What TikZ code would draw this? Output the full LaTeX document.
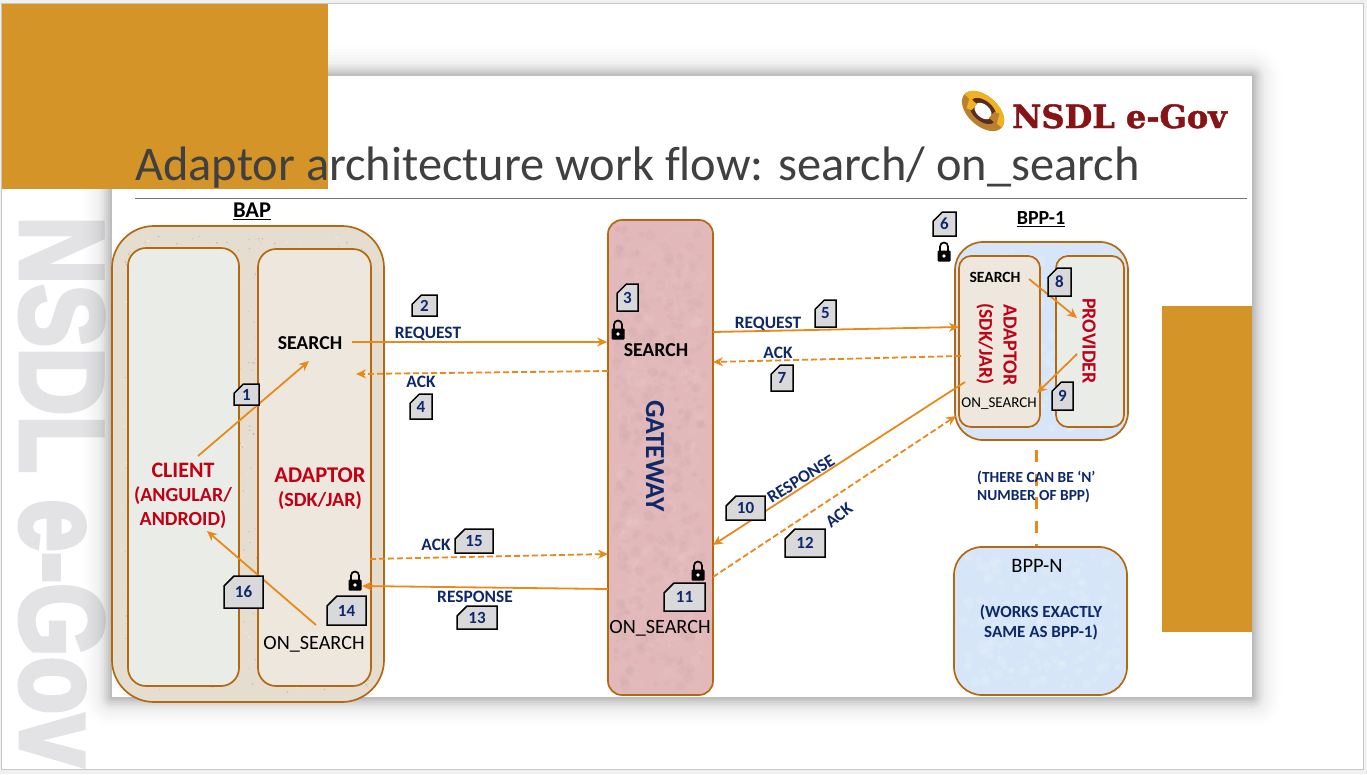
\documentclass[tikz,border=0pt]{standalone}
\usepackage{fontspec}
\setmainfont{Carlito}
\newfontfamily\heavyfont[BoldFeatures={FakeBold=4}]{Liberation Sans}
\newfontfamily\logofont[BoldFeatures={FakeBold=1.5}]{DejaVu Serif}
\usetikzlibrary{arrows.meta,shapes.misc}
\definecolor{gold}{RGB}{212,148,40}
\definecolor{edge}{RGB}{180,104,16}
\definecolor{flow}{RGB}{232,137,28}
\definecolor{navy}{RGB}{14,40,105}
\definecolor{crimson}{RGB}{192,0,20}
\definecolor{papergray}{RGB}{240,240,240}
\definecolor{wmgray}{RGB}{227,227,230}
\definecolor{sand}{RGB}{229,221,208}
\definecolor{linen}{RGB}{238,231,221}
\definecolor{mist}{RGB}{233,236,231}
\definecolor{rosy}{RGB}{226,184,186}
\definecolor{sky}{RGB}{214,229,247}
\definecolor{tagfill}{RGB}{217,217,220}
\definecolor{logored}{RGB}{134,20,22}
\definecolor{logobrown}{RGB}{92,44,32}
\definecolor{logoamber}{RGB}{186,128,48}
\definecolor{logoyellow}{RGB}{240,178,32}

% spots of colour for the rough paper fills
\newcommand{\speckle}[7]{%
  \foreach \i in {1,...,#6}{
    \pgfmathsetmacro{\sx}{#2+rnd*(#4-#2)}
    \pgfmathsetmacro{\sy}{#3+rnd*(#5-#3)}
    \pgfmathsetmacro{\sr}{#7*(.4+rnd)}
    \fill[#1] (\sx,\sy) circle (\sr);
  }}

\begin{document}
\begin{tikzpicture}[
  x=1pt, y=-1pt,
  box/.style={draw=edge, line width=1.7pt, inner sep=0pt},
  tag/.style={chamfered rectangle, chamfered rectangle corners=north west,
              chamfered rectangle xsep=5pt, chamfered rectangle ysep=5pt,
              chamfered rectangle angle=45,
              draw=black, line width=1.5pt, fill=tagfill, inner sep=0pt,
              text=navy, font=\fontsize{17}{17}\selectfont\bfseries},
  lbl/.style={font=\fontsize{17.4}{19}\selectfont\bfseries, text=navy, inner sep=1pt},
  black label/.style={font=\fontsize{19.7}{21}\selectfont\bfseries, inner sep=1pt},
  plain label/.style={font=\fontsize{20.2}{21}\selectfont, inner sep=1pt},
  red label/.style={font=\fontsize{22}{24}\selectfont\bfseries, text=crimson, inner sep=1pt},
  arr/.style={-{Stealth[length=10pt,width=9pt]}, flow, line width=1.8pt},
  dasharr/.style={arr, dash pattern=on 6pt off 3pt},
  lockicon/.pic={
    \draw[black, line width=1.7pt] (-4,0) -- (-4,-4.5) arc (180:360:4) -- (4,0);
    \fill[black, rounded corners=1pt] (-6.5,-0.5) rectangle (6.5,10.5);
    \fill[white] (0,5) circle (1.8);
  }]

\useasboundingbox (0,0) rectangle (1367,774);
\pgfmathsetseed{42}

% ---------- page and watermark ----------
\fill[papergray] (0,0) rectangle (1367,774);
\draw[fill=white, draw=black!22, line width=1pt] (1.5,3.5) rectangle (1363,769);
\node[rotate=-90, xscale=0.8, transform shape, anchor=base west, inner sep=0pt,
      font=\fontsize{118}{118}\selectfont\heavyfont\bfseries, text=wmgray] (mark) at (21,216) {NSDL e-Gov};

% ---------- slide ----------
\foreach \d/\o in {30/.005,27/.006,24/.008,21/.01,18/.013,15/.017,12/.022,10/.026,8/.032,6/.04,4/.045,2/.05}
  \fill[black, opacity=\o, rounded corners=\d pt] (112-\d,76-\d) rectangle (1252+\d,697+\d);
\fill[white] (112,76) rectangle (1252,697);
\fill[gold] (2,4) rectangle (328,189);
\fill[gold] (1162,306) rectangle (1252,632);
\draw[black!55, line width=.8pt] (135,198) -- (1247,198);
\node[anchor=base west, inner sep=0pt, text=black!75, font=\fontsize{48.4}{48}\selectfont\addfontfeatures{Ligatures=NoCommon}] (title) at (135,180)
  {Adaptor architecture work flow: search/ on\_search};

% ---------- logo ----------
\begin{scope}[shift={(983,111)}, rotate=-42]
\fill[logoamber] (0,0) ellipse (25 and 15);
\fill[logoyellow] (-25,0) arc (180:360:25 and 15) -- cycle;
\fill[logobrown] (0,0) ellipse (16 and 10);
\fill[white] (0,0) ellipse (10 and 6.5);
\fill[logoyellow] (-19,-1) -- (-9,-1) -- (-9,7) -- (-14,9) -- cycle;
\fill[logoamber] (19,1) -- (9,1) -- (9,-7) -- (14,-9) -- cycle;
\end{scope}
\node[anchor=base west, inner sep=0pt, text=logored, font=\fontsize{32}{33}\selectfont\logofont\bfseries] (logo) at (1012,128) {NSDL e-Gov};

% ---------- BAP ----------
\node[box, fill=sand, minimum width=272pt, minimum height=476pt, rounded corners=42pt] (bap) at (248,464) {};
\speckle{black!45!sand, opacity=.35}{124}{236}{372}{692}{700}{.7}
\speckle{white, opacity=.35}{124}{236}{372}{692}{300}{1}
\node[box, fill=mist, minimum width=111pt, minimum height=438pt, rounded corners=18pt] (client) at (183.5,467) {};
\node[box, fill=linen, minimum width=113pt, minimum height=437pt, rounded corners=18pt] (adaptor) at (314.5,467.5) {};
\node[black label, font=\fontsize{22.5}{24}\selectfont\bfseries] (baptxt) at (252,211) {\underline{BAP}};
\node[red label] at (183,470) (clienttxt) {CLIENT};
\node[red label, font=\fontsize{20}{23.5}\selectfont\bfseries, align=center] at (183,507.5) (clientsub) {(ANGULAR/\\ANDROID)};
\node[red label, font=\fontsize{22.5}{24}\selectfont\bfseries] at (320,475) (adaptortxt) {ADAPTOR};
\node[red label, font=\fontsize{20.2}{22}\selectfont\bfseries] at (320,501) (adaptorsub) {(SDK/JAR)};
\node[black label] (searchA) at (310,343) {SEARCH};
\node[plain label] (onsearchA) at (314,644) {ON\_SEARCH};

% ---------- gateway ----------
\node[box, fill=rosy, minimum width=105pt, minimum height=475pt, rounded corners=14pt] (gateway) at (660.5,457.5) {};
\speckle{white, opacity=.04}{616}{228}{705}{687}{400}{5}
\speckle{black!40!rosy, opacity=.04}{616}{228}{705}{687}{400}{4}
\node[rotate=-90, font=\fontsize{27.5}{28}\selectfont\bfseries, text=navy] (gatewaytxt) at (655,456) {GATEWAY};
\node[black label] (searchB) at (656,350) {SEARCH};
\node[plain label] (onsearchB) at (660,628) {ON\_SEARCH};

% ---------- BPP-1 ----------
\node[box, fill=sky, minimum width=173pt, minimum height=198pt, rounded corners=28pt] (bppone) at (1041.5,341) {};
\speckle{white, opacity=.12}{964}{251}{1119}{431}{200}{4}
\node[box, fill=linen, minimum width=81pt, minimum height=171pt, rounded corners=12pt] (bppadaptor) at (999.5,341.5) {};
\node[box, fill=mist, minimum width=68pt, minimum height=171pt, rounded corners=12pt] (provider) at (1090,341.5) {};
\node[black label, font=\fontsize{20}{21}\selectfont\bfseries] (bpptxt) at (1041,219) {\underline{BPP-1}};
\node[black label, font=\fontsize{15.6}{16}\selectfont\bfseries] (searchC) at (995,277) {SEARCH};
\node[plain label, font=\fontsize{15}{16}\selectfont] (onsearchC) at (999,404) {ON\_SEARCH};
\node[red label, font=\fontsize{20}{22}\selectfont\bfseries, rotate=-90] (bppadaptortxt) at (1010,345) {ADAPTOR};
\node[red label, font=\fontsize{19.5}{22}\selectfont\bfseries, rotate=-90] (bppadaptorsub) at (985,344) {(SDK/JAR)};
\node[red label, font=\fontsize{20}{22}\selectfont\bfseries, rotate=-90] (providertxt) at (1089,341) {PROVIDER};

% ---------- BPP-N ----------
\node[box, fill=sky, minimum width=173pt, minimum height=148pt, rounded corners=28pt] (bppn) at (1040.5,621) {};
\speckle{white, opacity=.12}{963}{556}{1118}{686}{170}{4}
\node[black label, font=\fontsize{20.5}{21}\selectfont] (bppntxt) at (1037,566) {BPP-N};
\node[lbl, font=\fontsize{17}{20}\selectfont\bfseries, align=center] (works) at (1041,622) {(WORKS EXACTLY\\SAME AS BPP-1)};

% ---------- flows ----------
\coordinate (clientout) at (198,456);
\coordinate (searchin) at (309,361);
\coordinate (ackAin) at (356,374);
\coordinate (ackAout) at (608,371);
\coordinate (reqBout) at (713,332);
\coordinate (reqBin) at (959,327);
\coordinate (ackBout) at (961,356);
\coordinate (ackBin) at (713,362);
\coordinate (searchCout) at (1029,279);
\coordinate (provin) at (1077,318);
\coordinate (provout) at (1077,354);
\coordinate (onCin) at (1037,393);
\coordinate (respBout) at (965,382);
\coordinate (respBin) at (713,545);
\coordinate (ackCout) at (713,577);
\coordinate (ackCin) at (956,416);
\coordinate (ackDout) at (370,559);
\coordinate (ackDin) at (608,554);
\coordinate (respAout) at (608,589);
\coordinate (respAin) at (362,586);
\coordinate (onAout) at (316,625);
\coordinate (clientin) at (207,531);
\coordinate (linkfrom) at (1036,450);
\coordinate (searchAout) at (352,342);

\draw[arr] (clientout) -- (searchin);
\draw[arr] (searchAout) -- (gateway.west |- searchAout);
\draw[dasharr] (ackAout) -- (ackAin);
\draw[arr] (reqBout) -- (reqBin);
\draw[dasharr] (ackBout) -- (ackBin);
\draw[arr] (searchCout) -- (provin);
\draw[arr] (provout) -- (onCin);
\draw[arr] (respBout) -- (respBin);
\draw[dasharr] (ackCout) -- (ackCin);
\draw[dasharr] (ackDout) -- (ackDin);
\draw[arr] (respAout) -- (respAin);
\draw[arr] (onAout) -- (clientin);
\draw[flow, line width=3pt, dash pattern=on 12pt off 11.5pt] (linkfrom) -- (linkfrom |- bppn.north);

% ---------- flow labels ----------
\node[lbl] (reqA) at (428,334) {REQUEST};
\node[lbl] (ackA) at (421,382) {ACK};
\node[lbl] (ackD) at (436,545) {ACK};
\node[lbl] (respA) at (475,597) {RESPONSE};
\node[lbl] (reqB) at (768,324) {REQUEST};
\node[lbl] (ackB) at (778,353) {ACK};
\node[lbl, rotate=32] (respB) at (801,479) {RESPONSE};
\node[lbl, rotate=38] (ackC) at (839,515) {ACK};
\node[lbl, font=\fontsize{15.4}{18}\selectfont\bfseries, align=left, anchor=west] (note) at (976,487)
  {(THERE CAN BE ‘N’\\NUMBER OF BPP)};

% ---------- numbered tags ----------
\foreach \n/\x/\y/\w/\h in {1/246.5/394.5/25/21, 2/424.5/305.5/25/21, 3/627.5/297.5/21/27,
    4/421/406.5/22/25, 5/825.5/313.5/21/27, 6/944.5/224/23/24, 7/782/378/22/26,
    8/1059.5/282/23/28, 9/1062.5/396/21/28, 10/745.5/508/39/24, 11/684.5/597/41/28,
    12/805/543/40/28, 13/477/617.5/40/23, 14/346.5/610.5/39/29, 15/474/541/38/24,
    16/243.5/592/39/32}
  \node[tag, minimum width=\w pt, minimum height=\h pt] (tag\n) at (\x,\y) {\n};

% ---------- locks ----------
\pic at (618,329) {lockicon};
\pic at (355,580) {lockicon};
\pic at (698,570) {lockicon};
\pic at (944,251) {lockicon};
\end{tikzpicture}
\end{document}
